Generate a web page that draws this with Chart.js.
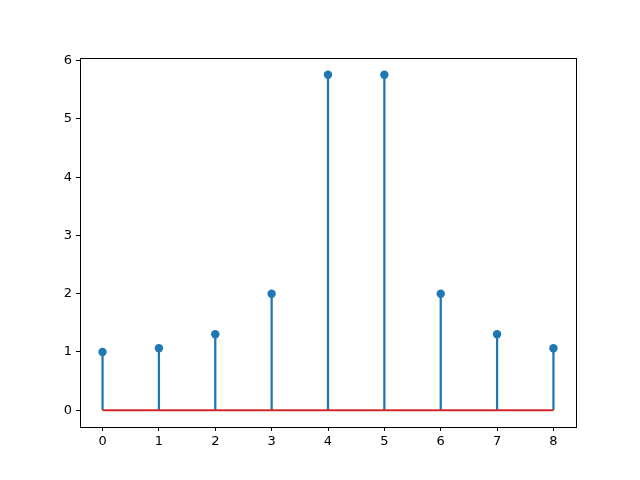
<!DOCTYPE html>
<html>
<head>
<meta charset="utf-8">
<script src="https://cdn.jsdelivr.net/npm/chart.js@4/dist/chart.umd.min.js"></script>
<style>
  html, body { margin: 0; padding: 0; background: #fff; }
  #wrap { width: 640px; height: 480px; }
</style>
</head>
<body>
<div id="wrap"><canvas id="stem-chart" width="640" height="480"></canvas></div>
<script>
// stem plot data
const xValues = [0, 1, 2, 3, 4, 5, 6, 7, 8];
const stemValues = [1.0, 1.064, 1.305, 2.0, 5.759, 5.759, 2.0, 1.305, 1.064];
const xTicks = [0, 1, 2, 3, 4, 5, 6, 7, 8];
const yTicks = [0, 1, 2, 3, 4, 5, 6];

const points = xValues.map((x, i) => ({ x: x, y: stemValues[i] }));
const baseline = [
    { x: xValues[0], y: 0 },
    { x: xValues[xValues.length - 1], y: 0 }
];

// draws the axes frame (top/right spines)
const framePlugin = {
    id: 'frame',
    afterDraw(chart) {
        const a = chart.chartArea;
        const c = chart.ctx;
        c.save();
        c.strokeStyle = '#000';
        c.lineWidth = 1;
        c.strokeRect(Math.round(a.left) + 0.5, Math.round(a.top) + 0.5,
            Math.round(a.right - a.left), Math.round(a.bottom - a.top));
        c.restore();
    }
};

Chart.defaults.font.family = 'DejaVu Sans';
Chart.defaults.font.size = 13;
Chart.defaults.color = '#000';

const ctx = document.getElementById('stem-chart').getContext('2d');
new Chart(ctx, {
    type: 'scatter',
    data: {
        datasets: [{
            type: 'line',
            data: baseline,
            borderColor: '#d62728',
            borderWidth: 2,
            pointRadius: 0,
            order: 1
        }, {
            type: 'scatter',
            data: points,
            backgroundColor: '#1f77b4',
            borderColor: '#1f77b4',
            pointRadius: 4.2,
            borderWidth: 0,
            order: 2
        }, {
            type: 'bar',
            data: points,
            backgroundColor: '#1f77b4',
            barThickness: 1.6,
            borderWidth: 0,
            order: 3
        }]
    },
    options: {
        responsive: false,
        animation: false,
        layout: { padding: { top: 58, right: 64, left: 0, bottom: 0 } },
        scales: {
            x: {
                type: 'linear',
                offset: false,
                min: -0.4,
                max: 8.4,
                afterBuildTicks: function(scale) {
                    scale.ticks = xTicks.map(v => ({ value: v }));
                },
                afterFit: function(scale) { scale.height = 53; },
                grid: {
                    offset: false,
                    drawOnChartArea: false,
                    drawTicks: true,
                    tickLength: 4,
                    tickColor: '#000'
                },
                border: { display: true, color: '#000' },
                ticks: { padding: 3, maxRotation: 0 }
            },
            y: {
                type: 'linear',
                min: -0.288,
                max: 6.047,
                afterBuildTicks: function(scale) {
                    scale.ticks = yTicks.map(v => ({ value: v }));
                },
                afterFit: function(scale) { scale.width = 80; },
                grid: {
                    offset: false,
                    drawOnChartArea: false,
                    drawTicks: true,
                    tickLength: 4,
                    tickColor: '#000'
                },
                border: { display: true, color: '#000' },
                ticks: { padding: 4 }
            }
        },
        plugins: {
            legend: { display: false },
            tooltip: { enabled: false }
        }
    },
    plugins: [framePlugin]
});
</script>
</body>
</html>
